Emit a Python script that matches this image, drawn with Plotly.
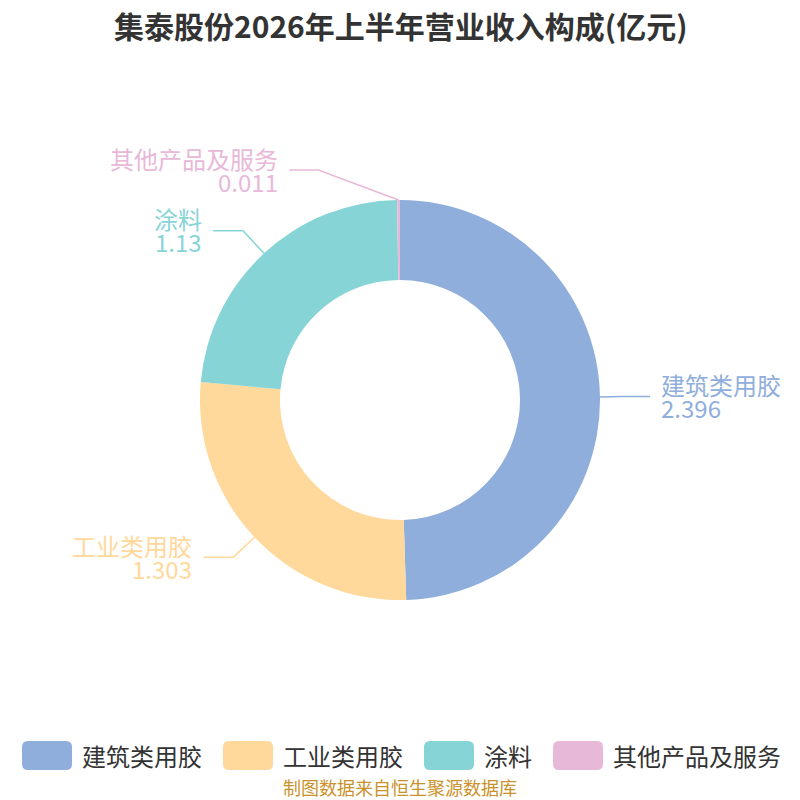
import math
import plotly.graph_objects as go

# ---- data ----
categories = ["建筑类用胶", "工业类用胶", "涂料", "其他产品及服务"]
values = [2.396, 1.303, 1.13, 0.011]
value_labels = ["2.396", "1.303", "1.13", "0.011"]
colors = ["#8FAEDB", "#FFD89B", "#87D4D7", "#E8B8D9"]
title_text = "集泰股份2026年上半年营业收入构成(亿元)"
source_text = "制图数据来自恒生聚源数据库"

# ---- style / layout params ----
W, H = 800, 800
CX, CY, R = 400, 400, 200
HOLE = 0.6
FONT = "Noto Sans CJK SC"
LABEL_SIZE = 24
# per-slice leader line tweaks: (first segment length, horizontal length, elbow dx shift, elbow dy shift)
leader = [(20, 30, 0, 0), (29, 30, 0, 0), (31, 30, 0, 0), (30, 29, -80, 0)]


def px(x):
    return x / W


def py(y):
    return 1 - y / H


fig = go.Figure()
fig.add_trace(go.Pie(
    labels=categories,
    values=values,
    hole=HOLE,
    sort=False,
    direction="clockwise",
    rotation=0,
    marker=dict(colors=colors, line=dict(width=0)),
    textinfo="none",
    hoverinfo="label+value",
    showlegend=False,
    domain=dict(x=[px(CX - R), px(CX + R)], y=[py(CY + R), py(CY - R)]),
))

shapes = []
annotations = []

total = sum(values)
cum = 0.0
for i, v in enumerate(values):
    mid = (cum + v / 2) / total
    cum += v
    th = 2 * math.pi * mid
    s, c = math.sin(th), math.cos(th)
    L1, L2, edx, edy = leader[i]
    x0, y0 = CX + R * s, CY - R * c
    x1, y1 = CX + (R + L1) * s + edx, CY - (R + L1) * c + edy
    side = 1 if s >= 0 else -1
    x2, y2 = x1 + side * L2, y1
    shapes.append(dict(
        type="path", xref="paper", yref="paper",
        path=f"M {px(x0)} {py(y0)} L {px(x1)} {py(y1)} L {px(x2)} {py(y2)}",
        line=dict(color=colors[i], width=1.5),
    ))
    tx = x2 + side * 9
    anchor = "left" if side > 0 else "right"
    for j, t in enumerate([categories[i], value_labels[i]]):
        annotations.append(dict(
            x=px(tx), y=py(y2 - 12 + 23 * j), xref="paper", yref="paper",
            text=t, showarrow=False, xanchor=anchor, yanchor="middle",
            align=anchor,
            font=dict(family=FONT, size=LABEL_SIZE, color=colors[i]),
        ))

# custom legend (rounded swatches)
legend_x = [22, 223, 424, 553]
LY0, LY1, LW, RAD = 741, 770, 50, 6
for i, cat in enumerate(categories):
    x0 = legend_x[i]
    x1 = x0 + LW
    r = RAD
    path = (f"M {px(x0 + r)} {py(LY0)} L {px(x1 - r)} {py(LY0)} "
            f"Q {px(x1)} {py(LY0)} {px(x1)} {py(LY0 + r)} "
            f"L {px(x1)} {py(LY1 - r)} Q {px(x1)} {py(LY1)} {px(x1 - r)} {py(LY1)} "
            f"L {px(x0 + r)} {py(LY1)} Q {px(x0)} {py(LY1)} {px(x0)} {py(LY1 - r)} "
            f"L {px(x0)} {py(LY0 + r)} Q {px(x0)} {py(LY0)} {px(x0 + r)} {py(LY0)} Z")
    shapes.append(dict(type="path", xref="paper", yref="paper", path=path,
                       fillcolor=colors[i], line=dict(width=0)))
    annotations.append(dict(
        x=px(x1 + 8), y=py((LY0 + LY1) / 2), xref="paper", yref="paper",
        text=cat, showarrow=False, xanchor="left", yanchor="middle",
        font=dict(family=FONT, size=24, color="#333333"),
    ))

# title
annotations.append(dict(
    x=0.5, y=py(25), xref="paper", yref="paper",
    text=f"<b>{title_text}</b>", showarrow=False, xanchor="center", yanchor="middle",
    font=dict(family=FONT, size=30, color="#333333"),
))
# source
annotations.append(dict(
    x=0.5, y=py(787), xref="paper", yref="paper",
    text=source_text, showarrow=False, xanchor="center", yanchor="middle",
    font=dict(family=FONT, size=18, color="#C9922B"),
))

fig.update_layout(
    width=W, height=H,
    margin=dict(l=0, r=0, t=0, b=0),
    paper_bgcolor="white", plot_bgcolor="white",
    shapes=shapes, annotations=annotations,
    showlegend=False,
)

fig.write_html(
    "out.html",
    config={"displayModeBar": False},
    post_script="document.body.style.margin='0';document.body.style.overflow='hidden';",
)
